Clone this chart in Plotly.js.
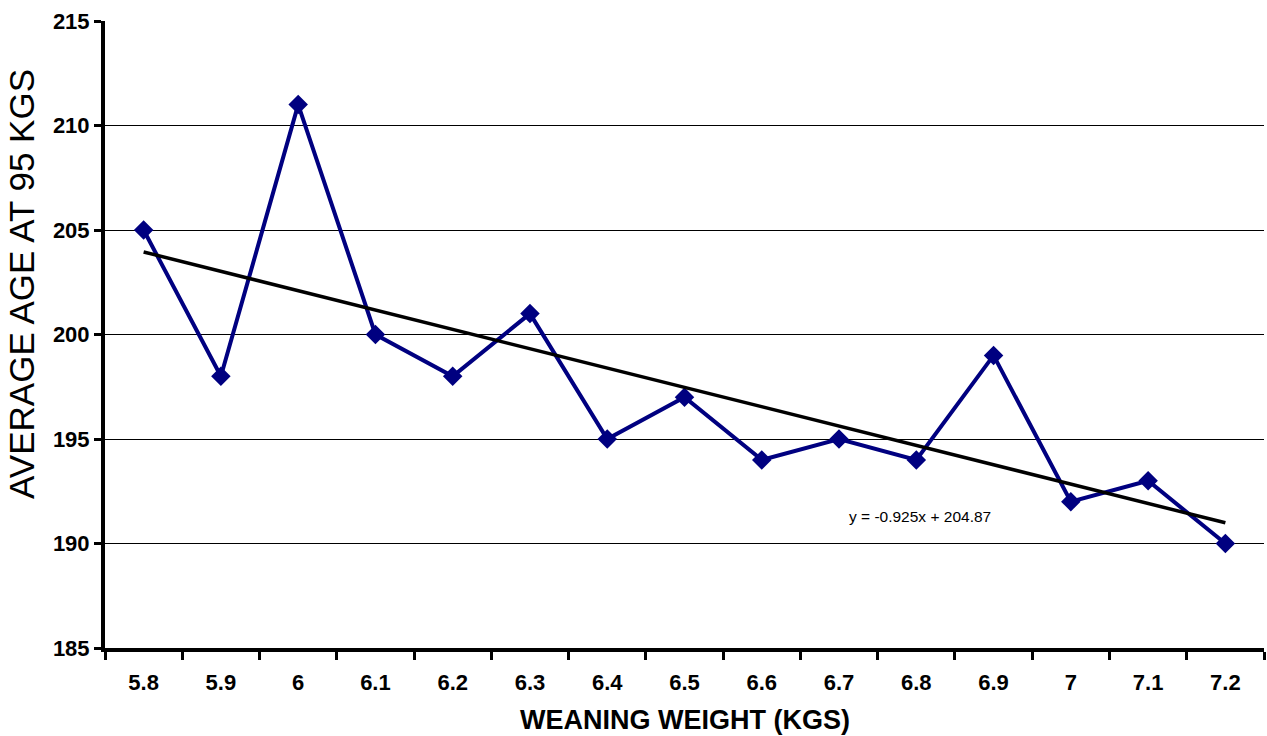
<!DOCTYPE html>
<html>
<head>
<meta charset="utf-8">
<script src="https://cdn.plot.ly/plotly-3.0.1.min.js"></script>
<style>html,body{margin:0;padding:0;background:#fff;}#chart{width:1267px;height:736px;}</style>
</head>
<body>
<div id="chart"></div>
<script>
const categories = ["5.8","5.9","6","6.1","6.2","6.3","6.4","6.5","6.6","6.7","6.8","6.9","7","7.1","7.2"];
const ageValues = [205,198,211,200,198,201,195,197,194,195,194,199,192,193,190];
const trendX = ["5.8","7.2"];
const trendY = [203.95,190.99];
const trendLabel = "y = -0.925x + 204.87";
const yTicks = [185,190,195,200,205,210,215];
const xTitle = "WEANING WEIGHT (KGS)";
const yTitle = "AVERAGE AGE AT 95 KGS";

const data = [
  {x: categories, y: ageValues, type: "scatter", mode: "lines+markers",
   line: {color: "#000080", width: 4},
   marker: {symbol: "diamond", size: 15, color: "#000080"},
   hoverinfo: "x+y"},
  {x: trendX, y: trendY, type: "scatter", mode: "lines",
   line: {color: "#000000", width: 3.5}, hoverinfo: "skip"}
];

const layout = {
  width: 1267, height: 736,
  margin: {l: 105, r: 3, t: 21, b: 88},
  paper_bgcolor: "#fff", plot_bgcolor: "#fff",
  showlegend: false,
  font: {family: "Liberation Sans, Arial, sans-serif", color: "#000"},
  xaxis: {
    type: "category", categoryorder: "array", categoryarray: categories,
    range: [-0.5, 14.5],
    tickson: "boundaries", ticks: "outside", ticklen: 8, tickwidth: 3, tickcolor: "#000",
    ticklabelstandoff: 12,
    showline: true, linecolor: "#000", linewidth: 4,
    showgrid: false, zeroline: false,
    tickfont: {size: 22, family: "Liberation Sans, Arial, sans-serif", weight: "bold"}
  },
  yaxis: {
    range: [185, 215], tickvals: yTicks, ticks: "outside", ticklen: 7, tickwidth: 3, tickcolor: "#000",
    showline: true, linecolor: "#000", linewidth: 4,
    showgrid: true, gridcolor: "#000", gridwidth: 1, zeroline: false,
    tickfont: {size: 22, family: "Liberation Sans, Arial, sans-serif", weight: "bold"}
  },
  annotations: [
    {xref: "paper", yref: "y", x: 0.640, y: 191.3, xanchor: "left", yanchor: "middle",
     text: trendLabel, showarrow: false, font: {size: 15.5, color: "#000"}},
    {xref: "paper", yref: "paper", x: 0.5, y: -0.115, xanchor: "center", yanchor: "middle",
     text: "<b>" + xTitle + "</b>", showarrow: false, font: {size: 27, color: "#000"}},
    {xref: "paper", yref: "paper", x: -0.072, y: 0.58, xanchor: "center", yanchor: "middle",
     textangle: -90, text: yTitle, showarrow: false, font: {size: 35, color: "#000"}}
  ]
};

Plotly.newPlot("chart", data, layout, {displayModeBar: false});
</script>
</body>
</html>
